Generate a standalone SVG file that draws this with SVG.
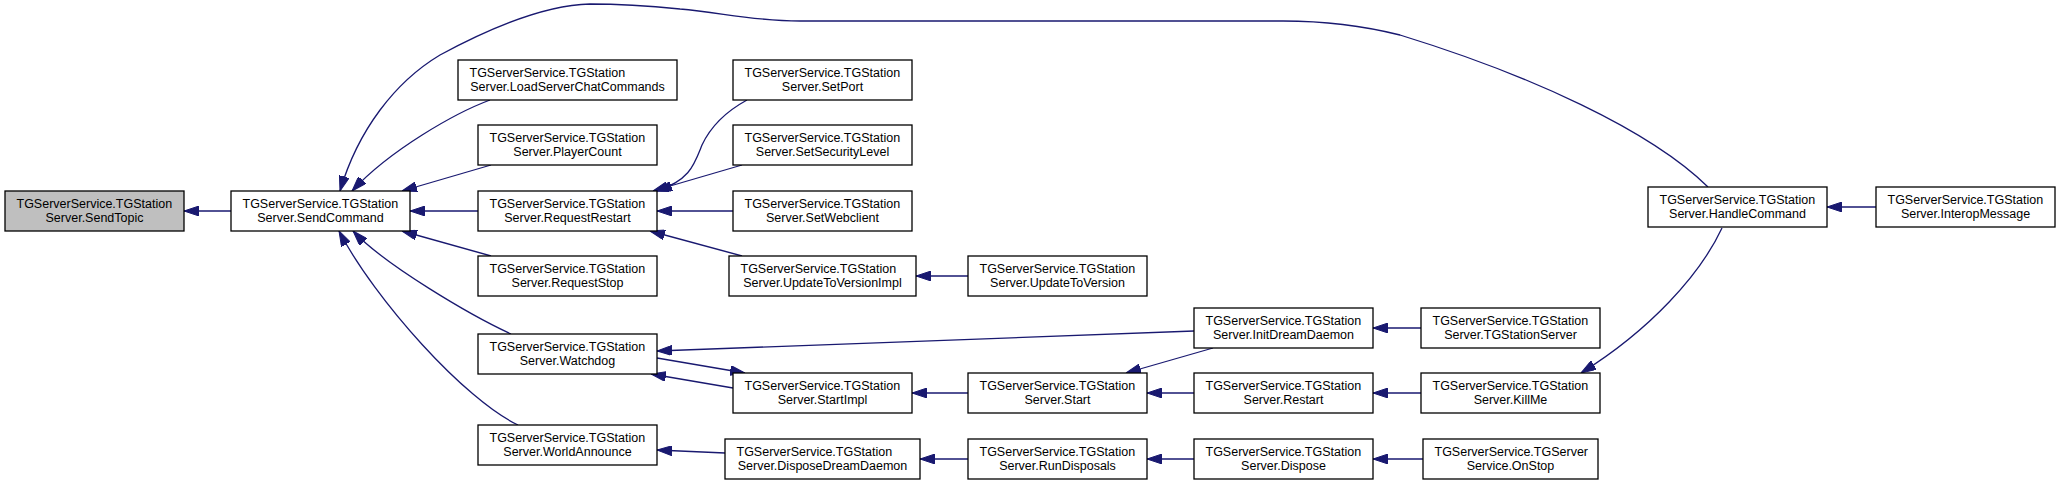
<svg xmlns="http://www.w3.org/2000/svg" width="2059" height="485" viewBox="0 0 2059 485">
<style>
.node rect{fill:#ffffff;stroke:#000000;stroke-width:1.3}
.node.hl rect{fill:#bfbfbf}
.node text{font-family:"Liberation Sans",Arial,Helvetica,sans-serif;font-size:12.5px;fill:#000000}
.node text.c{text-anchor:middle}
.edges path{fill:none;stroke:#191970;stroke-width:1.3;marker-end:url(#arr)}
</style>
<defs>
<marker id="arr" markerUnits="userSpaceOnUse" markerWidth="15" markerHeight="10" refX="15" refY="5" orient="auto" viewBox="0 0 15 10">
<path d="M0,0 L15,5 L0,10 z" fill="#191970" stroke="#191970" stroke-width="1"/>
</marker>
</defs>
<rect width="2059" height="485" fill="#ffffff"/>
<g class="edges" id="edges">
<path d="M231,211 L184,211"/>
<path d="M490,100 C455,113 390,150 352,191"/>
<path d="M491,165 L402,191"/>
<path d="M478,211 L410,211"/>
<path d="M491,256 L402,231"/>
<path d="M511,334 C470,315 385,265 353,231"/>
<path d="M518,425 C465,400 375,300 339,231"/>
<path d="M1708,187 C1650,130 1530,75 1400,35 C1360,25 1320,21 1283,21 L800,21 C750,21 720,12 680,9 C650,6 620,4 590,4 C545,5 490,28 440,55 C395,82 358,130 340,191"/>
<path d="M747,100 C725,112 710,128 702,145 C694,165 690,180 657,191"/>
<path d="M742,165 L653,191"/>
<path d="M733,211 L657,211"/>
<path d="M742,256 L650,231"/>
<path d="M968,276 L916,276"/>
<path d="M1194,331 L657,351"/>
<path d="M657,358 L745,373"/>
<path d="M733,388 L651,374"/>
<path d="M968,393 L912,393"/>
<path d="M1213,348 L1126,373"/>
<path d="M1194,393 L1147,393"/>
<path d="M1421,328 L1373,328"/>
<path d="M1421,393 L1373,393"/>
<path d="M1722,228 C1700,275 1650,330 1581,373"/>
<path d="M1876,207 L1827,207"/>
<path d="M725,453 L657,450"/>
<path d="M968,459 L920,459"/>
<path d="M1194,459 L1147,459"/>
<path d="M1423,459 L1373,459"/>
</g>
<g class="node hl" id="n_sendtopic"><rect x="5" y="191" width="179" height="40"/><text x="16.5" y="208">TGServerService.TGStation</text><text class="c" x="94.5" y="221.5">Server.SendTopic</text></g>
<g class="node" id="n_sendcommand"><rect x="231" y="191" width="179" height="40"/><text x="242.5" y="208">TGServerService.TGStation</text><text class="c" x="320.5" y="221.5">Server.SendCommand</text></g>
<g class="node" id="n_loadchat"><rect x="458" y="60" width="219" height="40"/><text x="469.5" y="77">TGServerService.TGStation</text><text class="c" x="567.5" y="90.5">Server.LoadServerChatCommands</text></g>
<g class="node" id="n_playercount"><rect x="478" y="125" width="179" height="40"/><text x="489.5" y="142">TGServerService.TGStation</text><text class="c" x="567.5" y="155.5">Server.PlayerCount</text></g>
<g class="node" id="n_requestrestart"><rect x="478" y="191" width="179" height="40"/><text x="489.5" y="208">TGServerService.TGStation</text><text class="c" x="567.5" y="221.5">Server.RequestRestart</text></g>
<g class="node" id="n_requeststop"><rect x="478" y="256" width="179" height="40"/><text x="489.5" y="273">TGServerService.TGStation</text><text class="c" x="567.5" y="286.5">Server.RequestStop</text></g>
<g class="node" id="n_watchdog"><rect x="478" y="334" width="179" height="40"/><text x="489.5" y="351">TGServerService.TGStation</text><text class="c" x="567.5" y="364.5">Server.Watchdog</text></g>
<g class="node" id="n_worldannounce"><rect x="478" y="425" width="179" height="40"/><text x="489.5" y="442">TGServerService.TGStation</text><text class="c" x="567.5" y="455.5">Server.WorldAnnounce</text></g>
<g class="node" id="n_setport"><rect x="733" y="60" width="179" height="40"/><text x="744.5" y="77">TGServerService.TGStation</text><text class="c" x="822.5" y="90.5">Server.SetPort</text></g>
<g class="node" id="n_setsecurity"><rect x="733" y="125" width="179" height="40"/><text x="744.5" y="142">TGServerService.TGStation</text><text class="c" x="822.5" y="155.5">Server.SetSecurityLevel</text></g>
<g class="node" id="n_setwebclient"><rect x="733" y="191" width="179" height="40"/><text x="744.5" y="208">TGServerService.TGStation</text><text class="c" x="822.5" y="221.5">Server.SetWebclient</text></g>
<g class="node" id="n_updateimpl"><rect x="729" y="256" width="187" height="40"/><text x="740.5" y="273">TGServerService.TGStation</text><text class="c" x="822.5" y="286.5">Server.UpdateToVersionImpl</text></g>
<g class="node" id="n_startimpl"><rect x="733" y="373" width="179" height="40"/><text x="744.5" y="390">TGServerService.TGStation</text><text class="c" x="822.5" y="403.5">Server.StartImpl</text></g>
<g class="node" id="n_disposedd"><rect x="725" y="439" width="195" height="40"/><text x="736.5" y="456">TGServerService.TGStation</text><text class="c" x="822.5" y="469.5">Server.DisposeDreamDaemon</text></g>
<g class="node" id="n_updatever"><rect x="968" y="256" width="179" height="40"/><text x="979.5" y="273">TGServerService.TGStation</text><text class="c" x="1057.5" y="286.5">Server.UpdateToVersion</text></g>
<g class="node" id="n_start"><rect x="968" y="373" width="179" height="40"/><text x="979.5" y="390">TGServerService.TGStation</text><text class="c" x="1057.5" y="403.5">Server.Start</text></g>
<g class="node" id="n_rundisposals"><rect x="968" y="439" width="179" height="40"/><text x="979.5" y="456">TGServerService.TGStation</text><text class="c" x="1057.5" y="469.5">Server.RunDisposals</text></g>
<g class="node" id="n_initdd"><rect x="1194" y="308" width="179" height="40"/><text x="1205.5" y="325">TGServerService.TGStation</text><text class="c" x="1283.5" y="338.5">Server.InitDreamDaemon</text></g>
<g class="node" id="n_restart"><rect x="1194" y="373" width="179" height="40"/><text x="1205.5" y="390">TGServerService.TGStation</text><text class="c" x="1283.5" y="403.5">Server.Restart</text></g>
<g class="node" id="n_dispose"><rect x="1194" y="439" width="179" height="40"/><text x="1205.5" y="456">TGServerService.TGStation</text><text class="c" x="1283.5" y="469.5">Server.Dispose</text></g>
<g class="node" id="n_tgss"><rect x="1421" y="308" width="179" height="40"/><text x="1432.5" y="325">TGServerService.TGStation</text><text class="c" x="1510.5" y="338.5">Server.TGStationServer</text></g>
<g class="node" id="n_killme"><rect x="1421" y="373" width="179" height="40"/><text x="1432.5" y="390">TGServerService.TGStation</text><text class="c" x="1510.5" y="403.5">Server.KillMe</text></g>
<g class="node" id="n_onstop"><rect x="1423" y="439" width="175" height="40"/><text x="1434.5" y="456">TGServerService.TGServer</text><text class="c" x="1510.5" y="469.5">Service.OnStop</text></g>
<g class="node" id="n_handlecmd"><rect x="1648" y="187" width="179" height="40"/><text x="1659.5" y="204">TGServerService.TGStation</text><text class="c" x="1737.5" y="217.5">Server.HandleCommand</text></g>
<g class="node" id="n_interop"><rect x="1876" y="187" width="179" height="40"/><text x="1887.5" y="204">TGServerService.TGStation</text><text class="c" x="1965.5" y="217.5">Server.InteropMessage</text></g>
</svg>
